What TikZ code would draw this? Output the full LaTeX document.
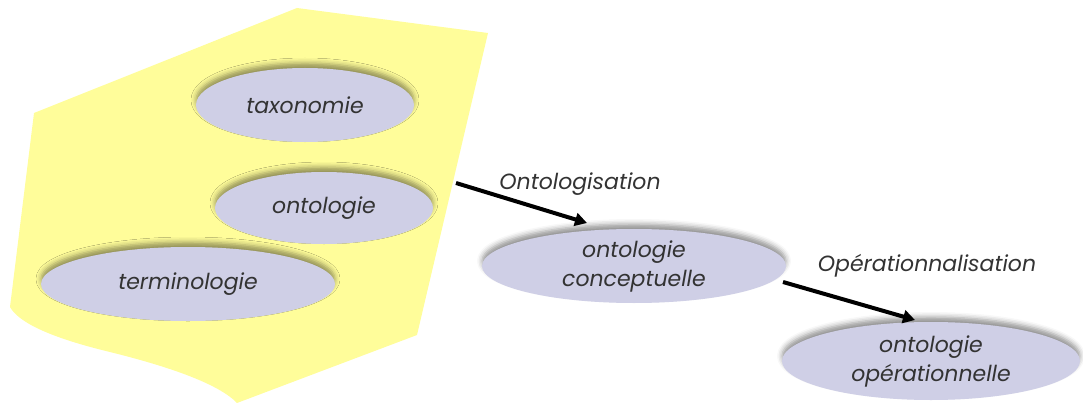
\documentclass[tikz,border=0pt]{standalone}
\usepackage{fontspec}
\setmainfont{Poppins}
\usetikzlibrary{shapes.geometric,shadows.blur,arrows.meta}
\definecolor{lav}{HTML}{CFCFE6}
\definecolor{yel}{HTML}{FFFD9A}
\definecolor{txt}{HTML}{333333}
\tikzset{
  oval/.style={ellipse, fill=lav, inner sep=0pt, text=txt, align=center,
    font=\fontsize{22}{29}\selectfont\itshape,
    blur shadow={shadow xshift=0pt, shadow yshift=5pt, shadow blur radius=5pt, shadow opacity=42}},
  flow/.style={line width=4pt, -{Triangle[length=12pt,width=13pt]}},
  lbl/.style={text=txt, font=\fontsize{22}{26}\selectfont\itshape}
}
\begin{document}
\begin{tikzpicture}[x=1pt,y=-1pt]
\useasboundingbox (0,0) rectangle (1083,403);
\fill[yel] (34,113) -- (297,8) -- (488,33) -- (417,335) -- (237,403)
  .. controls (215,380) and (150,362) .. (110,352)
  .. controls (60,340) and (20,325) .. (10,307) -- cycle;
\node[oval, minimum width=218pt, minimum height=74pt] (tax) at (305,105) {taxonomie};
\node[oval, minimum width=218pt, minimum height=72pt] (ont) at (324,208) {ontologie};
\node[oval, minimum width=294pt, minimum height=74pt] (ter) at (188,284) {terminologie};
\node[oval, minimum width=304pt, minimum height=74pt] (conc) at (634,266) {ontologie\\conceptuelle};
\node[oval, minimum width=298pt, minimum height=78pt] (oper) at (931,361) {ontologie\\opérationnelle};
\coordinate (s1) at (456,183);
\coordinate (e1) at (587,223);
\coordinate (s2) at (783,282);
\coordinate (e2) at (915,320);
\draw[flow] (s1) -- (e1);
\draw[flow] (s2) -- (e2);
\node[lbl] (l1) at (580,184) {Ontologisation};
\node[lbl] (l2) at (927,266) {Opérationnalisation};
\end{tikzpicture}
\end{document}
